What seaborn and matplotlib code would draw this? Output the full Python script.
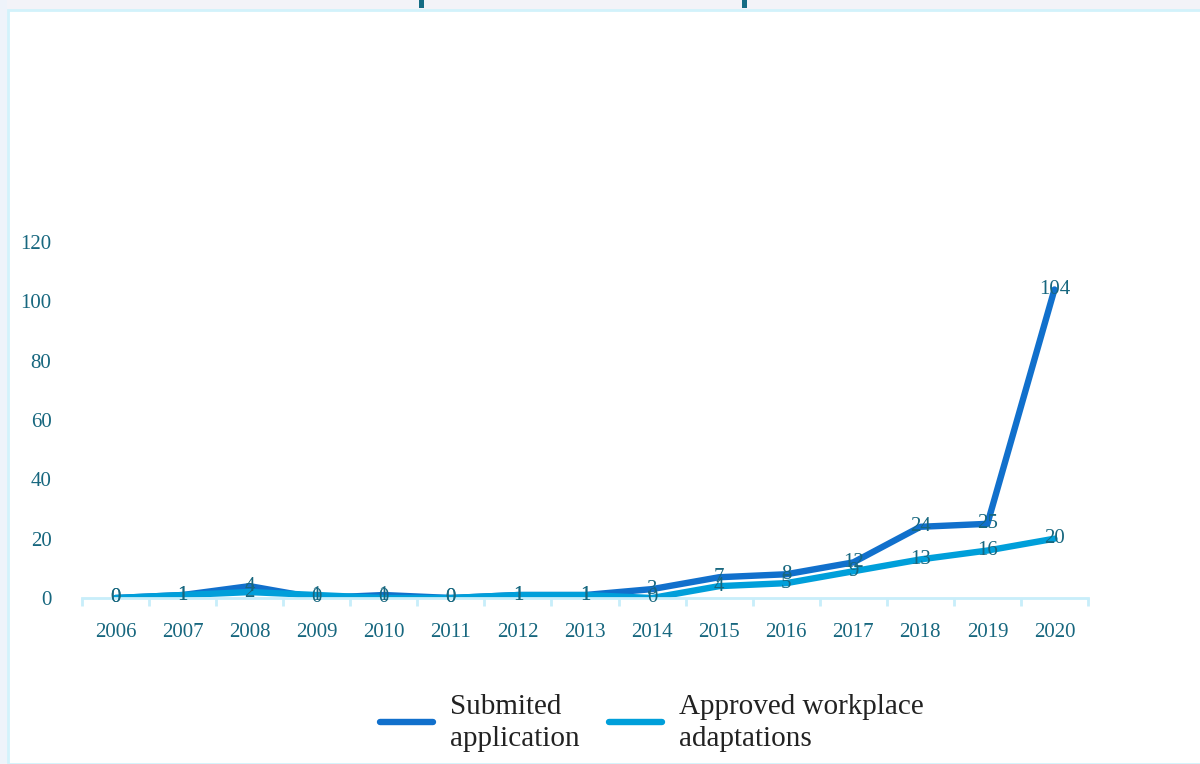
import matplotlib
matplotlib.use("Agg")
import matplotlib.pyplot as plt
from matplotlib.patches import Rectangle
import seaborn as sns
import pandas as pd

years = ["2006", "2007", "2008", "2009", "2010", "2011", "2012", "2013",
         "2014", "2015", "2016", "2017", "2018", "2019", "2020"]
submitted = [0, 1, 4, 0, 1, 0, 1, 1, 3, 7, 8, 12, 24, 25, 104]
approved = [0, 1, 2, 1, 0, 0, 1, 1, 0, 4, 5, 9, 13, 16, 20]
series_names = ["Submited\napplication", "Approved workplace\nadaptations"]
y_ticks = [0, 20, 40, 60, 80, 100, 120]

colors = {series_names[0]: "#1170CC", series_names[1]: "#009FDA"}
text_color = "#17677F"
axis_color = "#C8EEFA"

df = pd.DataFrame({
    "year": years * 2,
    "value": submitted + approved,
    "series": [series_names[0]] * len(years) + [series_names[1]] * len(years),
})

sns.set_theme(style="white")
plt.rcParams["font.family"] = ["Liberation Serif", "DejaVu Serif"]

fig = plt.figure(figsize=(12, 7.64), dpi=100)
fig.patch.set_facecolor("#F3F3F8")

# white panel with a thin cyan frame
fig.add_artist(Rectangle((8 / 1200, 0), 1.2, 754 / 764, transform=fig.transFigure,
                         facecolor="white", edgecolor="#D2F2FB", linewidth=2, zorder=0))
fig.add_artist(Rectangle((0, 0), 7 / 1200, 1, transform=fig.transFigure,
                         facecolor="#EEF3FA", edgecolor="none", zorder=0))
# header tabs peeking above the panel
for xpx in (419, 742):
    fig.add_artist(Rectangle((xpx / 1200, 756 / 764), 5 / 1200, 8 / 764,
                             transform=fig.transFigure, facecolor="#156C84",
                             edgecolor="none", zorder=1))

ax = fig.add_axes([82 / 1200, (764 - 598) / 764, 1006 / 1200, 356 / 764])
ax.set_facecolor("none")

sns.lineplot(data=df, x="year", y="value", hue="series", palette=colors,
             linewidth=4.6, ax=ax, legend=False, sort=False)

# value labels centred on each point
for vals in (submitted, approved):
    for i, v in enumerate(vals):
        ax.text(i, v, str(v), ha="center", va="center", fontsize=15,
                color=text_color, clip_on=False, zorder=5)

ax.set_xlim(-0.5, len(years) - 0.5)
ax.set_ylim(0, 120)
ax.set_yticks(y_ticks)
ax.set_xlabel("")
ax.set_ylabel("")

for side in ("top", "right", "left"):
    ax.spines[side].set_visible(False)
ax.spines["bottom"].set_color(axis_color)
ax.spines["bottom"].set_linewidth(2)

ax.set_xticks(range(len(years)))
ax.set_xticklabels(years)
ax.set_xticks([i - 0.5 for i in range(len(years) + 1)], minor=True)
ax.tick_params(axis="x", which="major", length=0, pad=18, labelsize=15,
               labelcolor=text_color)
ax.tick_params(axis="x", which="minor", length=6, width=2, color=axis_color,
               direction="out", bottom=True)
ax.tick_params(axis="y", length=0, pad=22, labelsize=15, labelcolor=text_color)

handles = [plt.Line2D([], [], color=colors[n], linewidth=4.6) for n in series_names]
leg = fig.legend(handles, series_names, loc="lower center", ncol=2,
                 bbox_to_anchor=(652 / 1200, -0.018), frameon=False, fontsize=21,
                 handlelength=1.8, handletextpad=0.6, columnspacing=1.0,
                 labelcolor="#222222")
for t in leg.get_texts():
    t.set_linespacing(1.3)

fig.savefig("out.png", dpi=100, facecolor=fig.get_facecolor())
